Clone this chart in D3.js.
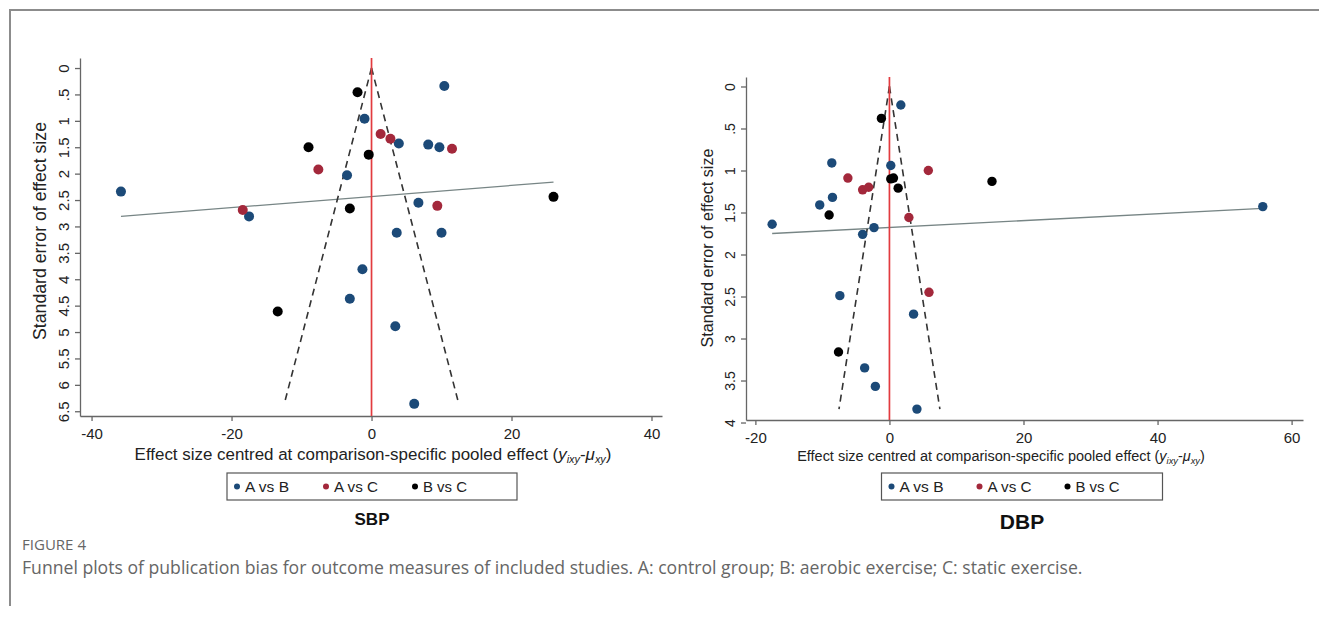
<!DOCTYPE html>
<html>
<head>
<meta charset="utf-8">
<script src="https://cdn.jsdelivr.net/npm/d3@7"></script>
<style>
  body { margin: 0; background: #fff; }
  svg { display: block; }
  text { font-family: "Liberation Sans", Arial, sans-serif; }
</style>
</head>
<body>
<div id="chart"></div>
<script>
// series: [effect size centred, standard error]
var sbpAvsB = [[-35.8, 2.34], [-17.5, 2.81], [10.4, 0.34], [-1.0, 0.96], [3.9, 1.43], [8.1, 1.45],
  [9.7, 1.50], [-3.5, 2.03], [6.7, 2.55], [3.6, 3.12], [10.0, 3.12], [-1.3, 3.81], [-3.1, 4.37],
  [3.4, 4.89], [6.1, 6.36]];
var sbpAvsC = [[-18.4, 2.69], [-7.6, 1.92], [1.3, 1.25], [2.7, 1.34], [11.5, 1.53], [9.4, 2.61]];
var sbpBvsC = [[-9.0, 1.50], [-2.0, 0.46], [-0.4, 1.64], [26.0, 2.44], [-3.1, 2.66], [-13.4, 4.61]];
var sbpFit = [[-35.8, 2.81], [26.0, 2.16]];

var dbpAvsB = [[-17.5, 1.64], [-8.6, 0.91], [-10.4, 1.41], [-8.5, 1.32], [-4.0, 1.76], [-2.3, 1.68],
  [1.7, 0.22], [0.2, 0.94], [55.7, 1.43], [-7.4, 2.49], [3.6, 2.71], [-3.7, 3.35], [-2.1, 3.57],
  [4.1, 3.84]];
var dbpAvsC = [[-6.2, 1.09], [-4.0, 1.23], [-3.1, 1.20], [2.9, 1.56], [5.8, 1.00], [5.9, 2.45]];
var dbpBvsC = [[-9.0, 1.53], [-1.2, 0.38], [0.2, 1.10], [0.6, 1.09], [1.3, 1.21], [15.3, 1.13], [-7.6, 3.16]];
var dbpFit = [[-17.5, 1.75], [55.7, 1.45]];

var groups = ["A vs B", "A vs C", "B vs C"];
var groupColors = ["#1c4a78", "#a3283b", "#000000"];

var sbpXTicks = [-40, -20, 0, 20, 40];
var sbpYTicks = [0, .5, 1, 1.5, 2, 2.5, 3, 3.5, 4, 4.5, 5, 5.5, 6, 6.5];
var dbpXTicks = [-20, 0, 20, 40, 60];
var dbpYTicks = [0, .5, 1, 1.5, 2, 2.5, 3, 3.5, 4];

var W = 1319, H = 621;
var svg = d3.select("#chart").append("svg").attr("width", W).attr("height", H);

// outer frame of the figure
svg.append("path")
    .attr("d", "M10,606 L10,10 L" + (W + 5) + ",10")
    .attr("fill", "none").attr("stroke", "#8c8c8c").attr("stroke-width", 2);

var fmt = function(v) { return v > 0 && v < 1 ? ".5" : String(v); };

// scale a text's font so that it spans the wanted length
function fitText(t, len) {
  var fs = parseFloat(t.style("font-size"));
  var w = t.node().getComputedTextLength();
  t.style("font-size", (fs * len / w).toFixed(2) + "px");
}

function drawPanel(p) {
  var x = d3.scaleLinear().domain(p.xDomain).range([p.left, p.right]);
  var y = d3.scaleLinear().domain(p.yDomain).range([p.top, p.bottom]);
  var g = svg.append("g");

  var xAxis = g.append("g").attr("transform", "translate(0," + p.bottom + ")")
      .call(d3.axisBottom(x).tickValues(p.xTicks).tickFormat(function(d) { return String(d); })
        .tickSize(5).tickPadding(p.xPad).tickSizeOuter(0));
  xAxis.selectAll("text").attr("fill", "#222")
      .style("font-family", "Liberation Sans, Arial, sans-serif").style("font-size", p.xTickFont + "px");

  var yAxis = g.append("g").attr("transform", "translate(" + p.left + ",0)")
      .call(d3.axisLeft(y).tickValues(p.yTicks).tickFormat(fmt).tickSize(5).tickSizeOuter(0));
  yAxis.selectAll(".tick text")
      .attr("x", null).attr("dy", null).attr("fill", "#222")
      .attr("text-anchor", "middle")
      .attr("transform", "translate(-11,0) rotate(-90)")
      .style("font-family", "Liberation Sans, Arial, sans-serif").style("font-size", p.yTickFont + "px");
  g.selectAll(".domain, .tick line").attr("stroke", "#666").attr("stroke-width", 1.3);

  // axis titles
  var yt = g.append("text")
      .attr("transform", "translate(" + p.yTitleX + "," + p.yTitleY + ") rotate(-90)")
      .attr("text-anchor", "middle")
      .style("font-size", "14px")
      .attr("fill", "#222")
      .text("Standard error of effect size");
  fitText(yt, p.yTitleLen);

  var xt = g.append("text")
      .attr("x", p.xTitleX).attr("y", p.xTitleY)
      .attr("text-anchor", "middle")
      .style("font-size", "14px")
      .attr("fill", "#222");
  xt.append("tspan").text("Effect size centred at comparison-specific pooled effect (");
  xt.append("tspan").style("font-style", "italic").text("y");
  xt.append("tspan").style("font-style", "italic").style("font-size", "9px").attr("dy", 3).text("ixy");
  xt.append("tspan").attr("dy", -3).text("-");
  xt.append("tspan").style("font-style", "italic").text("\u03bc");
  xt.append("tspan").style("font-style", "italic").style("font-size", "9px").attr("dy", 3).text("xy");
  xt.append("tspan").attr("dy", -3).text(")");
  var k = p.xTitleLen / xt.node().getComputedTextLength();
  xt.style("font-size", (14 * k).toFixed(2) + "px");
  xt.selectAll("tspan").filter(function() { return this.style.fontSize === "9px"; })
      .style("font-size", (9 * k).toFixed(2) + "px");

  // regression line
  g.append("line")
      .attr("x1", x(p.fit[0][0])).attr("y1", y(p.fit[0][1]))
      .attr("x2", x(p.fit[1][0])).attr("y2", y(p.fit[1][1]))
      .attr("stroke", "#778585").attr("stroke-width", 1.3);

  // pseudo 95% confidence funnel
  var all = p.series[0].concat(p.series[1], p.series[2]);
  var seMax = d3.max(all, function(d) { return d[1]; });
  [-1, 1].forEach(function(s) {
    g.append("line")
        .attr("x1", x(0)).attr("y1", y(0))
        .attr("x2", x(s * 1.96 * seMax)).attr("y2", y(seMax))
        .attr("stroke", "#333").attr("stroke-width", 1.6).attr("stroke-dasharray", "7,5");
  });

  // null line
  g.append("line")
      .attr("x1", x(0)).attr("x2", x(0)).attr("y1", p.top).attr("y2", p.bottom)
      .attr("stroke", "#e23b3f").attr("stroke-width", 1.7);

  p.series.forEach(function(data, i) {
    g.selectAll(".pt" + i).data(data).enter().append("circle")
        .attr("cx", function(d) { return x(d[0]); })
        .attr("cy", function(d) { return y(d[1]); })
        .attr("r", p.dotR)
        .attr("fill", groupColors[i]);
  });

  // legend
  var cx = p.legendX;
  var lw = p.legendW, lt = p.legendTop;
  g.append("rect")
      .attr("x", cx - lw / 2).attr("y", lt).attr("width", lw).attr("height", 27)
      .attr("fill", "#fff").attr("stroke", "#555").attr("stroke-width", 1.2);
  groups.forEach(function(name, i) {
    var ix = cx - lw / 2 + 10 + i * p.legendStep;
    g.append("circle").attr("cx", ix).attr("cy", lt + 13.5).attr("r", 3).attr("fill", groupColors[i]);
    var lt2 = g.append("text").attr("x", ix + 8).attr("y", lt + 19)
        .style("font-family", "'Liberation Sans Narrow', 'Liberation Sans', Arial, sans-serif")
        .style("font-size", "16px")
        .attr("fill", "#222").text(name);
    fitText(lt2, 44);
  });

  g.append("text")
      .attr("x", cx).attr("y", p.labelY)
      .attr("text-anchor", "middle")
      .style("font-size", p.labelFont + "px")
      .style("font-weight", "bold").attr("fill", "#111")
      .text(p.label);
}

drawPanel({
  left: 80, right: 662, top: 58, bottom: 416,
  xDomain: [-41.65, 41.5], yDomain: [-0.19, 6.59],
  xTicks: sbpXTicks, yTicks: sbpYTicks,
  series: [sbpAvsB, sbpAvsC, sbpBvsC], fit: sbpFit,
  dotR: 5, xTickFont: 15, yTickFont: 15, xPad: 7,
  yTitleX: 46, yTitleY: 231, yTitleLen: 218,
  xTitleX: 373, xTitleY: 460, xTitleLen: 477,
  legendX: 372, legendTop: 473, legendW: 290, legendStep: 89,
  label: "SBP", labelY: 525, labelFont: 17
});

drawPanel({
  left: 746, right: 1303, top: 77, bottom: 420,
  xDomain: [-21.4, 61.7], yDomain: [-0.113, 3.97],
  xTicks: dbpXTicks, yTicks: dbpYTicks,
  series: [dbpAvsB, dbpAvsC, dbpBvsC], fit: dbpFit,
  dotR: 4.7, xTickFont: 15, yTickFont: 14, xPad: 7,
  yTitleX: 713, yTitleY: 248, yTitleLen: 199,
  xTitleX: 1001, xTitleY: 461, xTitleLen: 408,
  legendX: 1022, legendTop: 473, legendW: 281, legendStep: 88,
  label: "DBP", labelY: 529, labelFont: 21
});

// caption
var cap1 = svg.append("text").attr("x", 22).attr("y", 550)
    .style("font-family", "Open Sans, sans-serif").style("font-size", "12px")
    .attr("fill", "#666").text("FIGURE 4");
fitText(cap1, 64);
var cap2 = svg.append("text").attr("x", 22).attr("y", 574)
    .style("font-family", "Open Sans, sans-serif").style("font-size", "16px")
    .attr("fill", "#666")
    .text("Funnel plots of publication bias for outcome measures of included studies. A: control group; B: aerobic exercise; C: static exercise.");
fitText(cap2, 1061);
</script>
</body>
</html>
